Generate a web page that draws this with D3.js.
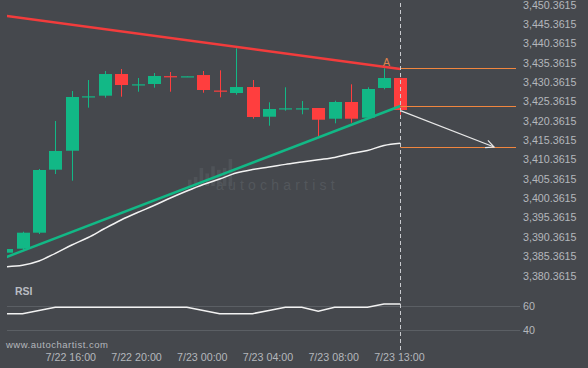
<!DOCTYPE html>
<html><head><meta charset="utf-8">
<script src="https://cdn.jsdelivr.net/npm/d3@7"></script>
<style>
html,body{margin:0;padding:0;background:#45484d;}
svg{display:block;}
text{font-family:"Liberation Sans",Arial,sans-serif;}
</style></head><body>
<svg id="chart" width="588" height="368"></svg>
<script>
// ---- data ----
const candleIndex = d3.range(25);
const openP  = [3386.28,3387.31,3391.45,3407.73,3412.63,3426.62,3426.85,3432.45,3429.72,3429.87,3431.90,3431.80,3432.19,3428.18,3427.54,3429.09,3421.42,3423.52,3423.52,3423.67,3420.90,3425.22,3421.16,3428.84,3431.42];
const highP  = [3387.40,3391.70,3407.91,3420.31,3428.06,3430.90,3433.23,3433.75,3431.42,3432.71,3432.97,3431.90,3433.23,3433.41,3439.09,3430.90,3425.14,3429.02,3425.48,3423.67,3425.55,3429.79,3429.02,3433.93,3431.50];
const lowP   = [3386.10,3386.97,3391.11,3406.61,3404.88,3423.75,3426.33,3426.59,3427.88,3428.91,3427.88,3431.78,3427.62,3426.43,3427.10,3420.90,3419.09,3422.97,3422.04,3416.25,3419.71,3419.87,3421.00,3428.50,3421.26];
const closeP = [3387.23,3391.45,3407.65,3412.56,3426.51,3426.69,3432.45,3429.61,3429.79,3431.94,3431.83,3431.86,3428.32,3428.11,3429.09,3421.34,3423.41,3423.59,3423.59,3420.64,3425.22,3420.90,3428.58,3431.42,3423.15];
const maValues = [3382.66,3383.02,3384.13,3386.12,3388.27,3390.20,3392.53,3394.73,3396.66,3398.47,3400.41,3402.22,3403.90,3405.32,3406.87,3407.78,3408.40,3409.10,3409.70,3410.30,3410.90,3411.90,3412.70,3413.98,3414.55];
const rsiValues = [53.6,53.6,56.3,58.9,58.9,58.9,58.9,58.9,58.9,58.9,58.9,58.9,56.2,53.6,53.6,53.6,56.3,58.9,58.9,55.6,58.9,58.9,58.9,61.7,61.7];
const priceTicks = [3450.3615,3445.3615,3440.3615,3435.3615,3430.3615,3425.3615,3420.3615,3415.3615,3410.3615,3405.3615,3400.3615,3395.3615,3390.3615,3385.3615,3380.3615];
const timeTickIndex = [4,8,12,16,20,24];
const timeTickLabels = ["7/22 16:00","7/22 20:00","7/23 00:00","7/23 04:00","7/23 08:00","7/23 13:00"];
const rsiTicks = [60,40];
const resistanceLine = [[0,3447.50],[24,3433.75]];
const supportLine = [[0,3385.13],[24,3424.18]];
const levelPrices = [3433.93,3424.10,3413.59];
const forecastArrow = [[24,3423.0],[29.7,3413.59]];
const logoBars = [0.35,0.5,1.0,0.7,1.1,0.9,1.0,1.5];

// ---- setup ----
const svg = d3.select("#chart");
const W = 588, H = 368;
const plotLeft = 7, plotRight = 516;
const x = d3.scaleLinear().domain([0,24]).range([6.07,400.4]);
const y = d3.scaleLinear().domain([3380.3615,3450.3615]).range([275.6,4.7]);
const ry = d3.scaleLinear().domain([40,60]).range([330,306]);

const textCol = "#b4b7bc";
const green = "#12b886", red = "#ff3e3e", orange = "#f0863f";

svg.append("rect").attr("width",W).attr("height",H).attr("fill","#45484d");

svg.append("defs").append("clipPath").attr("id","clip")
  .append("rect").attr("x",plotLeft).attr("y",0).attr("width",plotRight-plotLeft).attr("height",290);

// watermark
const wm = svg.append("g");
wm.selectAll("rect").data(logoBars).join("rect")
  .attr("x",(d,i)=>188+i*5.8).attr("width",3.6)
  .attr("y",d=>186-d*18).attr("height",d=>d*18)
  .attr("fill","#4f5358");
wm.append("text").attr("x",216).attr("y",190).text("autochartist")
  .attr("font-family","'DejaVu Sans',sans-serif").attr("font-size",14).attr("font-weight",300)
  .attr("letter-spacing",4.2).attr("fill","#53575c");

const plot = svg.append("g").attr("clip-path","url(#clip)");

// MA line
plot.append("path").datum(maValues)
  .attr("d", d3.line().x((d,i)=>x(i)).y(d=>y(d)).curve(d3.curveMonotoneX))
  .attr("fill","none").attr("stroke","#f2f2f2").attr("stroke-width",1.5);

// candles
const cg = plot.append("g");
const isUp = i => closeP[i] >= openP[i];
cg.selectAll("line.wick").data(candleIndex).join("line").attr("class","wick")
  .attr("x1",i=>Math.round(x(i))+0.5).attr("x2",i=>Math.round(x(i))+0.5)
  .attr("y1",i=>y(highP[i])).attr("y2",i=>y(lowP[i]))
  .attr("stroke",i=>isUp(i)?green:red).attr("stroke-width",1);
cg.selectAll("rect.body").data(candleIndex).join("rect").attr("class","body")
  .attr("x",i=>Math.round(x(i))-6).attr("width",13)
  .attr("y",i=>Math.min(y(openP[i]),y(closeP[i])))
  .attr("height",i=>Math.max(1.2,Math.abs(y(openP[i])-y(closeP[i]))))
  .attr("fill",i=>isUp(i)?green:red);

// trend lines
const tl = d3.line().x(d=>x(d[0])).y(d=>y(d[1]));
plot.append("path").datum(resistanceLine).attr("d",tl)
  .attr("stroke","#f23c3c").attr("stroke-width",2.5).attr("fill","none");
plot.append("path").datum(supportLine).attr("d",tl)
  .attr("stroke",green).attr("stroke-width",2.5).attr("fill","none");

// levels
plot.selectAll("line.level").data(levelPrices).join("line").attr("class","level")
  .attr("x1",x(24)).attr("x2",plotRight)
  .attr("y1",d=>Math.round(y(d))+0.5).attr("y2",d=>Math.round(y(d))+0.5)
  .attr("stroke",orange).attr("stroke-width",1.2);

// forecast arrow
const [a0,a1] = forecastArrow;
const ax0=x(a0[0]), ay0=y(a0[1]), ax1=x(a1[0]), ay1=y(a1[1]);
const ang = Math.atan2(ay1-ay0, ax1-ax0);
plot.append("line").attr("x1",ax0).attr("y1",ay0).attr("x2",ax1).attr("y2",ay1)
  .attr("stroke","#e8e8e8").attr("stroke-width",1.2);
const hl = 9, ha = 0.45;
plot.append("path")
  .attr("d",`M${ax1-hl*Math.cos(ang-ha)},${ay1-hl*Math.sin(ang-ha)}L${ax1},${ay1}L${ax1-hl*Math.cos(ang+ha)},${ay1-hl*Math.sin(ang+ha)}`)
  .attr("fill","none").attr("stroke","#e8e8e8").attr("stroke-width",1.2);

// "A" label
svg.append("text").attr("x",x(23)+2.5).attr("y",66).attr("text-anchor","middle")
  .attr("font-size",10.5).attr("fill","#e0824c").text("A");

// RSI grid
svg.selectAll("line.rgrid").data(rsiTicks).join("line").attr("class","rgrid")
  .attr("x1",plotLeft).attr("x2",520)
  .attr("y1",d=>Math.round(ry(d))+0.5).attr("y2",d=>Math.round(ry(d))+0.5)
  .attr("stroke","#5b5f64").attr("stroke-width",1);

// RSI line
svg.append("path").datum(rsiValues)
  .attr("d", d3.line().x((d,i)=>Math.max(plotLeft,x(i))).y(d=>ry(d)))
  .attr("fill","none").attr("stroke","#f2f2f2").attr("stroke-width",1.5);

svg.append("text").attr("x",15).attr("y",295).text("RSI")
  .attr("font-size",10.5).attr("font-weight","bold").attr("fill","#b9bcc2");

// dashed vertical line
svg.append("line").attr("x1",Math.round(x(24))+0.5).attr("x2",Math.round(x(24))+0.5)
  .attr("y1",3).attr("y2",352)
  .attr("stroke","#c9cbcf").attr("stroke-width",1).attr("stroke-dasharray","4,3");

// axes
const fmt = d3.format(",.4f");
const yAxis = svg.append("g").attr("transform",`translate(${plotRight},0)`)
  .call(d3.axisRight(y).tickValues(priceTicks).tickSize(0).tickPadding(7).tickFormat(fmt));
const rAxis = svg.append("g").attr("transform",`translate(${plotRight},0)`)
  .call(d3.axisRight(ry).tickValues(rsiTicks).tickSize(0).tickPadding(7));
const xAxis = svg.append("g").attr("transform","translate(-1.5,346)")
  .call(d3.axisBottom(x).tickValues(timeTickIndex).tickSize(0).tickPadding(7)
    .tickFormat((d,i)=>timeTickLabels[i]));
[yAxis,rAxis,xAxis].forEach(g=>{
  g.select(".domain").remove();
  g.selectAll("text").attr("fill",textCol).attr("font-size",10.7)
    .attr("font-family","'Liberation Sans',Arial,sans-serif");
});

svg.append("text").attr("x",6).attr("y",348).text("www.autochartist.com")
  .attr("font-size",9.5).attr("letter-spacing",0.5).attr("fill",textCol);
</script>
</body></html>
